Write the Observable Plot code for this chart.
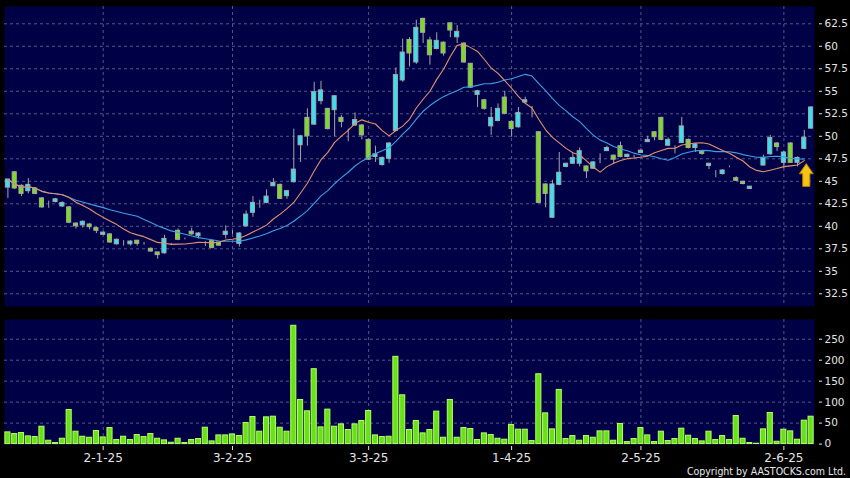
<!DOCTYPE html>
<html><head><meta charset="utf-8">
<script src="https://cdn.jsdelivr.net/npm/d3@7"></script>
<script src="https://cdn.jsdelivr.net/npm/@observablehq/plot@0.6"></script>
<style>
html,body{margin:0;padding:0;background:#000;}
#chart{position:relative;width:850px;height:478px;overflow:hidden;background:#000;}
#chart svg{display:block;}
.copy{position:absolute;right:4px;top:466px;font-family:"DejaVu Sans Condensed","DejaVu Sans",sans-serif;font-stretch:condensed;font-size:10.5px;line-height:1;color:#e8e8e8;white-space:nowrap;}
</style></head><body><div id="chart"></div>
<script>
// ---- data ----
const open = [
44.3,46.0,44.5,43.9,44.2,43.1,42.6,42.7,42.2,42.1,
40.3,40.1,40.2,39.8,39.05,39.1,38.0,38.2,38.0,38.4,
38.05,37.5,37.1,37.0,38.0,39.5,38.6,39.4,38.9,38.0,
38.35,38.2,39.05,39.45,38.05,40.0,41.5,42.6,42.6,44.45,
44.6,43.35,44.9,49.0,52.05,51.3,53.9,53.05,52.9,52.05,
49.5,51.2,51.2,49.6,47.7,46.8,47.5,50.6,56.2,60.7,
58.2,63.05,60.65,59.7,60.4,62.55,61.0,60.3,58.05,54.6,
54.0,51.1,51.7,54.3,51.6,51.0,53.75,52.95,50.45,44.65,
40.95,44.6,46.6,46.95,46.95,46.65,46.4,47.3,48.35,47.85,
48.9,47.7,47.75,48.15,49.35,50.45,52.05,48.95,48.8,49.25,
49.6,48.7,48.3,46.7,46.1,45.8,46.6,45.35,44.95,44.15,
44.95,46.75,48.0,49.2,47.05,49.2,47.05,48.6,50.85];
const high = [
45.2,46.1,44.6,45.3,44.3,43.2,42.8,43.1,42.7,42.2,
40.4,40.6,40.3,39.9,39.4,39.2,38.6,38.4,38.4,38.4,
38.2,37.6,37.1,39.0,38.1,39.7,38.7,39.8,39.3,38.3,
38.4,38.2,40.05,39.5,39.3,41.7,43.3,42.9,44.05,45.3,
44.7,44.0,50.8,50.1,53.05,56.0,56.1,53.1,54.5,52.3,
50.8,52.6,51.3,49.7,48.9,47.7,49.3,57.6,60.8,60.95,
62.9,63.1,61.0,61.5,60.5,62.6,62.3,60.4,58.1,55.1,
54.1,53.2,53.6,55.0,51.7,53.2,54.35,53.3,50.5,44.7,
45.1,48.2,47.0,48.1,48.7,46.7,47.2,48.05,48.9,47.9,
49.35,48.0,47.9,48.6,50.0,50.5,52.1,49.8,48.95,52.1,
49.7,49.2,48.4,47.0,46.2,46.3,46.7,45.5,45.0,44.45,
45.0,47.9,50.1,49.3,48.3,49.3,47.7,50.65,53.3];
const low = [
43.1,44.1,43.3,43.6,43.5,42.0,42.0,42.6,42.1,40.3,
39.7,39.8,39.6,39.2,39.0,38.1,37.9,37.8,37.8,37.8,
37.9,37.1,36.35,36.9,37.9,38.4,38.5,39.0,38.6,37.75,
37.5,37.8,38.6,39.1,37.7,39.9,41.0,42.0,42.5,44.4,
43.0,43.0,44.8,47.1,48.9,51.2,53.5,50.7,49.95,50.95,
49.4,51.1,49.6,47.3,47.1,46.7,47.0,50.5,56.0,57.7,
58.0,60.3,57.9,59.6,58.9,60.95,60.3,58.1,55.3,53.2,
52.9,50.1,51.6,52.4,49.9,50.9,53.7,52.05,42.5,42.05,
40.9,44.5,46.5,46.9,46.6,45.3,46.3,46.95,48.3,46.95,
47.6,47.6,47.6,48.1,49.3,49.5,49.5,48.9,48.05,49.2,
48.6,48.2,47.9,46.3,45.4,45.7,46.5,45.0,44.6,44.1,
44.9,46.7,47.9,48.3,46.4,47.0,46.6,48.5,50.8];
const close = [
45.2,44.2,43.6,44.6,43.6,42.1,42.6,43.0,42.6,40.4,
40.0,40.5,39.9,39.5,39.3,38.2,38.5,38.2,38.3,38.05,
38.05,37.2,36.8,38.6,38.0,38.5,38.6,39.1,39.2,38.0,
37.6,37.85,39.4,39.45,39.2,41.3,42.6,42.6,43.3,44.8,
43.05,43.9,46.3,50.0,50.0,54.9,55.1,50.8,54.45,51.6,
49.5,51.8,50.1,47.4,48.0,47.6,49.2,56.8,59.3,59.2,
62.05,61.5,59.0,60.6,59.2,61.75,61.6,58.2,55.4,55.0,
53.05,52.05,53.05,52.5,50.8,52.6,54.0,52.95,42.6,43.6,
44.65,45.95,46.95,47.6,48.35,46.1,47.1,47.3,48.7,47.4,
47.7,47.95,47.75,48.4,49.6,49.9,49.6,49.6,48.8,51.1,
48.7,49.1,48.05,46.95,46.1,46.2,46.6,45.05,44.7,44.4,
44.95,47.6,49.8,48.8,48.2,47.05,47.6,49.85,53.2];
const volume = [
27.9,23.9,26.3,18.3,16.7,41.4,8.0,2.4,12.7,81.3,
29.5,17.5,15.1,31.1,15.9,38.2,9.6,17.5,9.6,21.5,
16.7,23.9,12.7,8.8,3.2,12.7,2.4,9.6,12.0,39.0,
6.4,20.7,20.7,23.1,19.1,50.2,64.5,29.5,63.7,65.3,
39.0,29.5,282,105.2,78.1,178.5,39.8,82.1,41.4,47.0,
33.5,47.0,55.0,78.9,20.7,16.7,17.5,208,116.3,33.5,
55.0,25.5,33.5,77.3,15.1,105.2,15.1,38.2,35.9,9.6,
25.5,21.5,12.7,10.4,45.4,34.3,34.3,7.2,166.5,73.3,
35.1,129.1,12.0,19.1,8.0,19.1,15.1,30.3,30.3,8.0,
47.8,4.8,12.0,38.2,20.7,4.8,29.5,7.2,12.0,36.7,
19.9,12.0,6.4,29.5,9.6,19.1,9.6,66.9,12.7,2.4,
0.8,35.1,74.1,5.6,34.3,30.3,10.4,55.8,65.3];
const dateTicks = [14, 33, 53, 74, 93, 114];
const dateLabels = ["2-1-25", "3-2-25", "3-3-25", "1-4-25", "2-5-25", "2-6-25"];
const priceTicks = [32.5, 35, 37.5, 40, 42.5, 45, 47.5, 50, 52.5, 55, 57.5, 60, 62.5];
const volumeTicks = [0, 50, 100, 150, 200, 250];
const maPeriods = [10, 20];
const maLastIndex = 117;          // averages are drawn up to the signal bar
const signal = [{i: 117, price: 45.7}];

// ---- build ----
const idx = d3.range(close.length);
const candles = idx.map(i => ({i, o: open[i], h: high[i], l: low[i], c: close[i], v: volume[i]}));
const maData = candles.filter(d => d.i <= maLastIndex);
const UP = "#34e2f2", DOWN = "#7cdc1e", FLAT = "#a0a0a0";
const candleFill = d => d.c > d.o ? UP : d.c < d.o ? DOWN : FLAT;
const navy = "#000046";
const grid = {stroke: "#56568c", strokeDasharray: "3,3", strokeWidth: 1};
const common = {
  width: 850, marginLeft: 4, marginRight: 36,
  style: {background: "transparent", fontFamily: "'DejaVu Sans', sans-serif", color: "#e4e4e4", overflow: "visible"}
};
const xScale = {type: "band", domain: idx, paddingInner: 0.25, paddingOuter: 0.125, axis: null};

const arrowSymbol = {
  draw(ctx, size) {
    const r = Math.sqrt(size / Math.PI);
    const h = r * 0.95, hw = r * 0.58, sw = r * 0.3, hy = -h + r * 0.85;
    ctx.moveTo(0, -h); ctx.lineTo(hw, hy); ctx.lineTo(sw, hy); ctx.lineTo(sw, h);
    ctx.lineTo(-sw, h); ctx.lineTo(-sw, hy); ctx.lineTo(-hw, hy); ctx.closePath();
  }
};

const pricePlot = Plot.plot({
  ...common, height: 312, marginTop: 6, marginBottom: 6,
  x: xScale,
  y: {domain: [31.09, 64.42], axis: null},
  color: {type: "identity"},
  marks: [
    Plot.frame({fill: navy}),
    Plot.ruleY(priceTicks, grid),
    Plot.ruleX(dateTicks, grid),
    Plot.ruleX(candles, {x: "i", y1: "l", y2: "h", stroke: "#a6a6a6"}),
    Plot.barY(candles, {x: "i", y1: "o", y2: "c", fill: candleFill, stroke: "#a8a8a8", strokeWidth: 1, insetLeft: 0.5, insetRight: 0.5}),
    Plot.lineY(maData, Plot.windowY({k: maPeriods[1], anchor: "end"}, {x: "i", y: "c", stroke: "#3e9fe2", strokeWidth: 1.1})),
    Plot.lineY(maData, Plot.windowY({k: maPeriods[0], anchor: "end"}, {x: "i", y: "c", stroke: "#e39270", strokeWidth: 1.1})),
    Plot.dot(signal, {x: "i", y: "price", r: 12, symbol: arrowSymbol, fill: "#f6c417", stroke: "#b27a00", strokeWidth: 1, dx: 2}),
    Plot.axisY({ticks: priceTicks, anchor: "right", label: null, tickSize: 3, tickPadding: 3, dx: 4, fontSize: 10.5, tickFormat: d => String(d), color: "#e4e4e4"})
  ]
});

const volumePlot = Plot.plot({
  ...common, height: 166, marginTop: 7, marginBottom: 34,
  x: xScale,
  y: {domain: [-1, 297], axis: null},
  marks: [
    Plot.frame({fill: navy}),
    Plot.ruleY(volumeTicks.filter(v => v > 0), grid),
    Plot.ruleX(dateTicks, grid),
    Plot.barY(candles, {x: "i", y: "v", fill: "#68e216", stroke: "#b4ff6a", strokeWidth: 1}),
    Plot.axisY({ticks: volumeTicks, anchor: "right", label: null, tickSize: 3, tickPadding: 3, dx: 4, fontSize: 10.5, tickFormat: d => String(d), color: "#e4e4e4"}),
    Plot.axisX({ticks: dateTicks, anchor: "bottom", label: null, tickSize: 4, tickPadding: 3, dy: 2, fontSize: 12, tickFormat: d => dateLabels[dateTicks.indexOf(d)], color: "#e4e4e4"})
  ]
});

const root = document.getElementById("chart");
root.appendChild(pricePlot);
root.appendChild(volumePlot);
const copy = document.createElement("div");
copy.className = "copy";
copy.textContent = "Copyright by AASTOCKS.com Ltd.";
root.appendChild(copy);
</script>
</body></html>
